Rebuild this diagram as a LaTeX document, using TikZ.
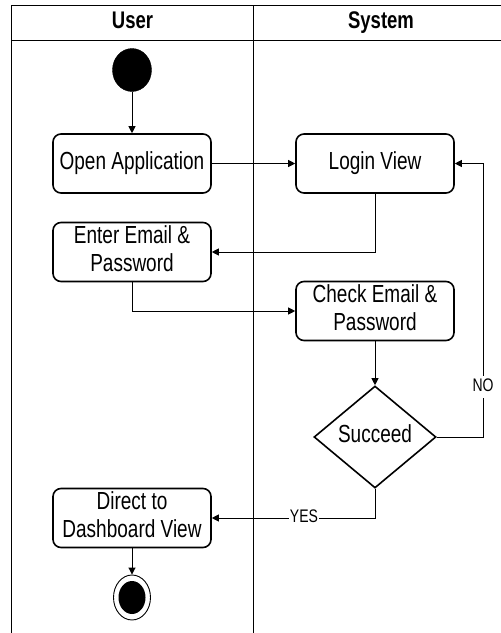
\documentclass[tikz,border=0pt]{standalone}
\usepackage{fontspec}
\setmainfont{Liberation Sans}
\usetikzlibrary{shapes.geometric,arrows.meta}
\newcommand{\vtext}[1]{\scalebox{1}[1.3]{\begin{tabular}{@{}c@{}}#1\end{tabular}}}
\begin{document}
\begin{tikzpicture}[x=1pt,y=-1pt,
  box/.style={draw, line width=1.6pt, rounded corners=8pt, minimum width=158pt, minimum height=59pt, inner sep=0pt, font=\fontsize{19}{21.5}\selectfont},
  conn/.style={line width=0.9pt, -{Triangle[length=7pt,width=7pt]}},
  lane/.style={line width=0.9pt},
  hdr/.style={font=\bfseries\fontsize{18.5}{20}\selectfont},
  lbl/.style={fill=white, inner sep=1pt, font=\fontsize{14}{16}\selectfont}]
\useasboundingbox (0,0) rectangle (501,633);
\fill[white] (0,0) rectangle (501,633);
% swimlanes
\draw[lane] (501,5) -- (11,5) -- (11,633);
\draw[lane] (11,40) -- (501,40);
\draw[lane] (253,5) -- (253,633);
\node[hdr] (hu) at (132.5,23) {\vtext{User}};
\node[hdr] (hs) at (381,23) {\vtext{System}};
% nodes
\node[ellipse, draw, fill=black, minimum width=39pt, minimum height=43pt, inner sep=0pt] (start) at (132,70) {};
\node[box] (open) at (132,163.5) {\vtext{Open Application}};
\node[box] (login) at (375,163.5) {\vtext{Login View}};
\node[box] (enter) at (132,252) {\vtext{Enter Email \&\\Password}};
\node[box] (check) at (375,311) {\vtext{Check Email \&\\Password}};
\node[diamond, draw, line width=1.6pt, minimum width=122pt, minimum height=102pt, inner sep=0pt, font=\fontsize{19}{21.5}\selectfont] (dia) at (375,437) {\vtext{Succeed}};
\node[box] (direct) at (132,518) {\vtext{Direct to\\Dashboard View}};
\node[ellipse, draw, line width=0.9pt, minimum width=37pt, minimum height=45pt, inner sep=0pt] (end) at (132,597.5) {};
\node[ellipse, fill=black, minimum width=27pt, minimum height=33pt, inner sep=0pt] (endin) at (132,597.5) {};
% connectors
\draw[conn] (start) -- (open);
\draw[conn] (open) -- (login);
\draw[conn] (login.south) |- (enter.east);
\draw[conn] (enter.south) |- (check.west);
\draw[conn] (check) -- (dia);
\draw[conn] (dia.east) -- ++(47,0) coordinate (n1) -- (n1 |- login.east) -- (login.east);
\node[lbl] (no) at (483,387) {\vtext{NO}};
\draw[conn] (dia.south) |- (direct.east);
\node[lbl] (yes) at (304,518) {\vtext{YES}};
\draw[conn] (direct) -- (end);
\end{tikzpicture}
\end{document}
